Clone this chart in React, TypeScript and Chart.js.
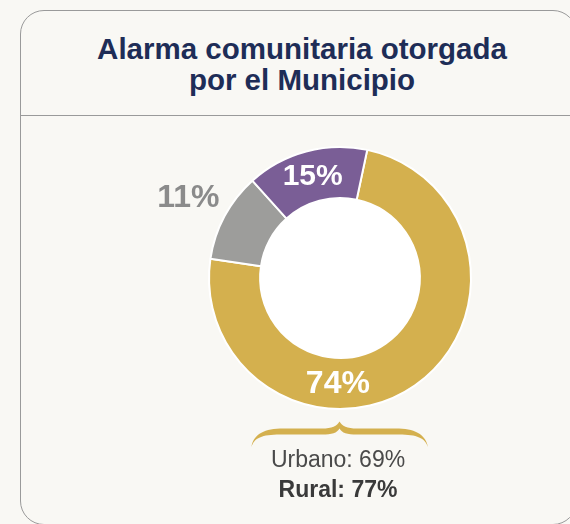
import React, { useEffect, useRef } from "react";
import { Chart, registerables } from "chart.js";

Chart.register(...registerables);

const categories = ["Sí", "No sabe", "No"];
const values = [74, 11, 15];
const valueLabels = ["74%", "11%", "15%"];
const colors = ["#d4b04e", "#9d9d9b", "#7a5e96"];
const labelColors = ["#ffffff", "#8b8b8b", "#ffffff"];
const titleLines = ["Alarma comunitaria otorgada", "por el Municipio"];
const breakdownLines = ["Urbano: 69%", "Rural: 77%"];

const FONT = '"Liberation Sans", Arial, Helvetica, sans-serif';

export default function App() {
  const ref = useRef<HTMLCanvasElement | null>(null);

  useEffect(() => {
    document.body.style.margin = "0";
    const canvas = ref.current;
    if (!canvas) return;

    const labelPlugin = {
      id: "labelPlugin",
      beforeDatasetsDraw(chart: any) {
        const meta = chart.getDatasetMeta(0);
        const el = meta.data[0];
        if (!el) return;
        const ctx = chart.ctx;
        ctx.save();
        ctx.fillStyle = "#ffffff";
        ctx.beginPath();
        ctx.arc(el.x, el.y, el.innerRadius, 0, Math.PI * 2);
        ctx.fill();
        ctx.restore();
      },
      afterDatasetsDraw(chart: any) {
        const meta = chart.getDatasetMeta(0);
        const ctx = chart.ctx;
        ctx.save();
        ctx.textAlign = "center";
        ctx.textBaseline = "middle";
        meta.data.forEach((el: any, i: number) => {
          const mid = (el.startAngle + el.endAngle) / 2;
          const ring = (el.innerRadius + el.outerRadius) / 2;
          let angle = mid;
          let r = ring;
          if (i === 0) angle = Math.PI / 2 + 0.02;
          if (i === 1) r = el.outerRadius + 41;
          const x = el.x + Math.cos(angle) * r;
          const y = el.y + Math.sin(angle) * r;
          ctx.font = `bold ${i === 2 ? 30 : 32}px ${FONT}`;
          ctx.fillStyle = labelColors[i];
          ctx.fillText(valueLabels[i], x, y + 1);
        });
        ctx.restore();
      },
    };

    const chart = new Chart(canvas, {
      type: "doughnut",
      data: {
        labels: categories,
        datasets: [
          {
            data: values,
            backgroundColor: colors,
            borderColor: "#ffffff",
            borderWidth: 2,
            hoverOffset: 0,
          },
        ],
      },
      options: {
        responsive: false,
        animation: false,
        rotation: 12,
        cutout: "61%",
        layout: { padding: 68 },
        plugins: {
          legend: { display: false },
          tooltip: { enabled: false },
          title: { display: false },
        },
      },
      plugins: [labelPlugin],
    });
    return () => chart.destroy();
  }, []);

  return (
    <div
      style={{
        position: "fixed",
        left: 0,
        top: 0,
        width: 570,
        height: 524,
        overflow: "hidden",
        background: "#f9f8f4",
        fontFamily: FONT,
      }}
    >
      <div
        style={{
          position: "absolute",
          left: 20,
          top: 10,
          width: 557,
          height: 515,
          border: "1.5px solid #9a9a9a",
          borderRadius: 24,
          boxSizing: "border-box",
        }}
      />
      <div
        style={{
          position: "absolute",
          left: 20,
          top: 115,
          width: 560,
          height: 0,
          borderTop: "1.5px solid #9a9a9a",
        }}
      />
      <div
        style={{
          position: "absolute",
          left: 0,
          top: 33,
          width: 604,
          textAlign: "center",
          fontSize: 29.5,
          lineHeight: "31px",
          fontWeight: "bold",
          color: "#1e2d57",
        }}
      >
        {titleLines.map((t, i) => (
          <div key={i}>{t}</div>
        ))}
      </div>
      <canvas
        ref={ref}
        width={400}
        height={400}
        style={{ position: "absolute", left: 140, top: 78, width: 400, height: 400 }}
      />
      <svg
        width={180}
        height={32}
        viewBox="0 0 180 32"
        style={{ position: "absolute", left: 250, top: 418 }}
      >
        <path
          fill="#d4b04e"
          d="M 1.5 29 C 3 18, 12 11, 30 10.5 L 72 10.5 C 82 10.5, 87 8, 89.5 3.5 C 92 8, 97 10.5, 107 10.5 L 149 10.5 C 167 11, 176 18, 178 29 C 175 20, 167 16.5, 149 16.5 L 107 16.5 C 97 16.5, 92 15, 89.5 10.5 C 87 15, 82 16.5, 72 16.5 L 30 16.5 C 12 16.5, 4 20, 1.5 29 Z"
        />
      </svg>
      <div
        style={{
          position: "absolute",
          left: 238,
          top: 444,
          width: 200,
          textAlign: "center",
          fontSize: 23,
          lineHeight: "30px",
        }}
      >
        <div style={{ color: "#4a4a4a" }}>{breakdownLines[0]}</div>
        <div style={{ color: "#3a3a3a", fontWeight: "bold" }}>{breakdownLines[1]}</div>
      </div>
    </div>
  );
}
